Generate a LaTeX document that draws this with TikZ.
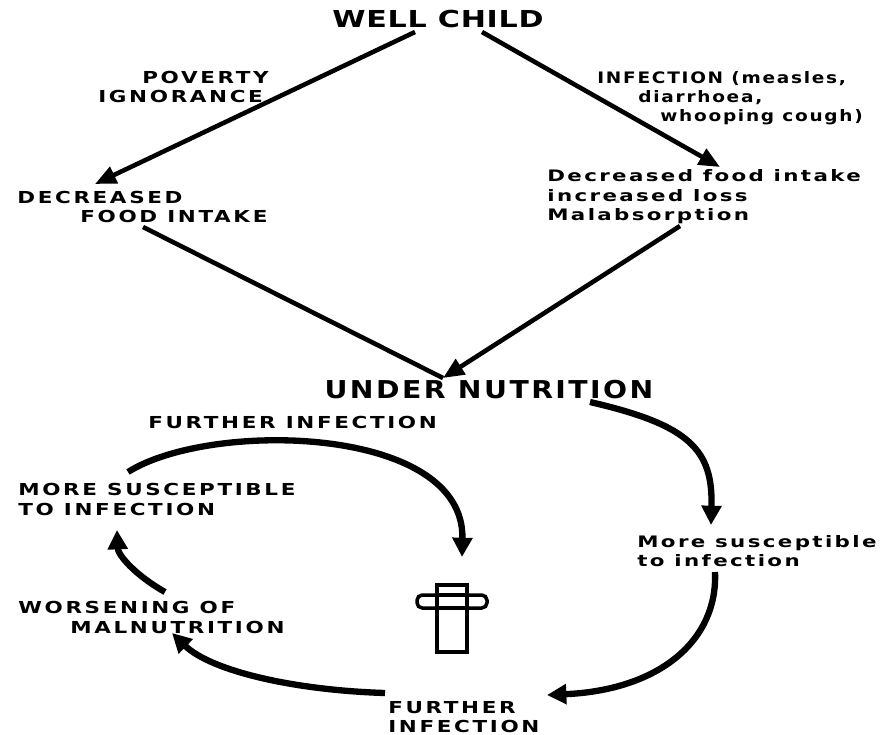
\documentclass[tikz,border=0pt]{standalone}
\usepackage{fontspec}
\usetikzlibrary{arrows.meta}
\newfontfamily\labfont[FakeStretch=1.3,LetterSpace=16]{DejaVu Sans}
\newfontfamily\lowfont[FakeStretch=1.35,LetterSpace=15]{DejaVu Sans}
\newfontfamily\inffont[FakeStretch=1.17,LetterSpace=11]{DejaVu Sans}
\newfontfamily\bigfont[FakeStretch=1.15,LetterSpace=10]{DejaVu Sans}
\newfontfamily\wcfont[FakeStretch=1.29,LetterSpace=3]{DejaVu Sans}
\tikzset{
  lab/.style={inner sep=0pt, anchor=base west, font=\labfont\bfseries\fontsize{9.4}{11}\selectfont},
  low/.style={inner sep=0pt, anchor=base west, font=\lowfont\bfseries\fontsize{9}{11}\selectfont},
  inf/.style={inner sep=0pt, anchor=base west, font=\inffont\bfseries\fontsize{9}{11}\selectfont},
  thinarr/.style={line width=2.6pt, -{Triangle[length=12pt,width=10pt]}},
  thickarr/.style={line width=3.6pt, -{Triangle[length=11pt,width=11pt]}},
  crossline/.style={line width=2pt, fill=white}
}
\begin{document}
\begin{tikzpicture}[x=0.02cm,y=-0.02cm]
\useasboundingbox (0,0) rectangle (881,734);
% texts
\node[inner sep=0pt, anchor=base, font=\wcfont\bfseries\fontsize{13.3}{15}\selectfont] (wc) at (438,27) {WELL CHILD};
\node[lab] (pov) at (142,83) {POVERTY};
\node[lab] (ign) at (98,102) {IGNORANCE};
\node[inf] (inf1) at (597,83) {INFECTION (measles,};
\node[inf] (inf2) at (638,102) {diarrhoea,};
\node[inf] (inf3) at (660,121) {whooping cough)};
\node[lab] (dec1) at (17,203) {DECREASED};
\node[lab] (dec2) at (80,222) {FOOD INTAKE};
\node[low] (dfi) at (547,181) {Decreased food intake};
\node[low] (il) at (547,201) {increased loss};
\node[low] (mal) at (547,220) {Malabsorption};
\node[inner sep=0pt, anchor=base, font=\bigfont\bfseries\fontsize{14}{16}\selectfont] (un) at (489,398) {UNDER NUTRITION};
\node[lab] (fi) at (148,428) {FURTHER INFECTION};
\node[lab] (ms1) at (18,495) {MORE SUSCEPTIBLE};
\node[lab] (ms2) at (18,515) {TO INFECTION};
\node[lab] (wm1) at (18,613) {WORSENING OF};
\node[lab] (wm2) at (70,633) {MALNUTRITION};
\node[low] (rs1) at (637,547) {More susceptible};
\node[low] (rs2) at (637,566) {to infection};
\node[lab] (fb1) at (388,713) {FURTHER};
\node[lab] (fb2) at (388,732) {INFECTION};
% connector endpoints
\coordinate (a1) at (415,32);
\coordinate (a1t) at (95,184);
\coordinate (a2) at (482,32);
\coordinate (a2t) at (720,167);
\coordinate (v1) at (143,227);
\coordinate (v2) at (680,226);
\coordinate (vt) at (443,378);
\coordinate (c1) at (128,472);
\coordinate (c1t) at (462,557);
\coordinate (c2) at (165,592);
\coordinate (c2t) at (117,530);
\coordinate (c3) at (385,693);
\coordinate (c3t) at (172,633);
\coordinate (r1) at (590,402);
\coordinate (r1t) at (711,525);
\coordinate (r2) at (715,572);
\coordinate (r2t) at (547,695);
% connectors
\draw[thinarr] (a1) -- (a1t);
\draw[thinarr] (a2) -- (a2t);
\draw[line width=2.6pt] (v1) -- (vt);
\draw[thinarr] (v2) -- (vt);
\draw[thickarr] (c1) .. controls (210,420) and (465,425) .. (c1t);
\draw[thickarr] (c2) .. controls (135,575) and (118,555) .. (c2t);
\draw[thickarr] (c3) .. controls (290,690) and (210,670) .. (c3t);
\draw[thickarr] (r1) .. controls (690,425) and (713,450) .. (r1t);
\draw[thickarr] (r2) .. controls (718,640) and (660,690) .. (r2t);
% cross
\draw[crossline, rounded corners=3pt] (417,595) rectangle (487,608);
\draw[crossline] (437,585) rectangle (467,652);
\draw[line width=2pt] (437,595) -- (467,595) (437,608) -- (467,608);
\end{tikzpicture}
\end{document}
